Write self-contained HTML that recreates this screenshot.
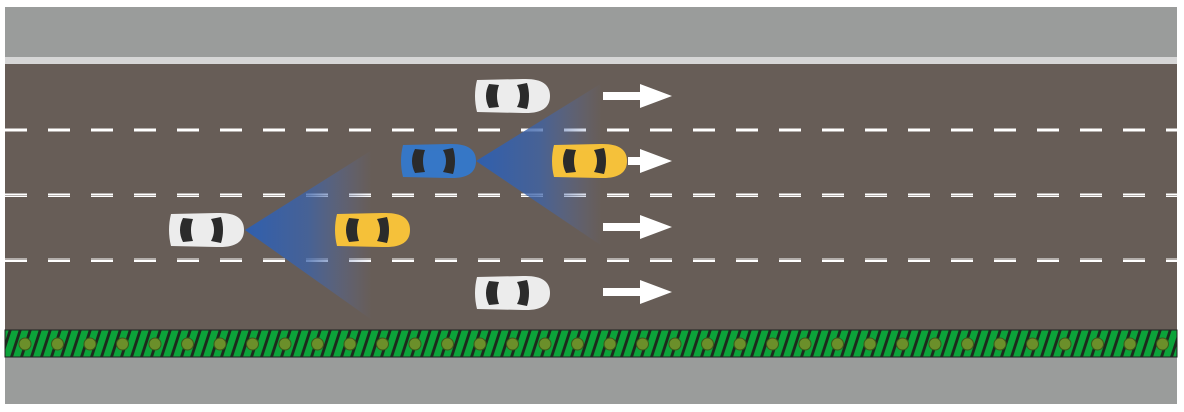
<!DOCTYPE html>
<html><head><style>html,body{margin:0;padding:0;background:#fff;}svg{display:block}</style></head>
<body>
<svg width="1184" height="412" viewBox="0 0 1184 412" xmlns="http://www.w3.org/2000/svg">
<defs>
<linearGradient id="cg" x1="0" x2="1" y1="0" y2="0">
<stop offset="0" stop-color="#2f5fae" stop-opacity="1"/>
<stop offset="0.5" stop-color="#3c63aa" stop-opacity="0.75"/>
<stop offset="1" stop-color="#5a6ea8" stop-opacity="0"/>
</linearGradient>
<pattern id="hatch" width="10" height="27" patternUnits="userSpaceOnUse" patternTransform="skewX(-18)">
<rect width="10" height="27" fill="#0ca33a"/>
<rect x="6" width="3" height="27" fill="#1d2a1d"/>
</pattern>
<pattern id="dash" width="43" height="4" patternUnits="userSpaceOnUse" x="5">
<rect x="0" width="22" height="3.5" fill="#fff"/>
</pattern>
<radialGradient id="bodyW" cx="0.6" cy="0.5" r="0.6"><stop offset="0" stop-color="#fff"/><stop offset="1" stop-color="#d6d6d6"/></radialGradient>
<radialGradient id="bodyY" cx="0.6" cy="0.5" r="0.6"><stop offset="0" stop-color="#f6d23a"/><stop offset="1" stop-color="#f0a630"/></radialGradient>
<radialGradient id="bodyB" cx="0.6" cy="0.5" r="0.6"><stop offset="0" stop-color="#3f8fd6"/><stop offset="1" stop-color="#2c63b0"/></radialGradient>
<g id="car">
<path d="M4,2 Q0,18 4,34 L50,35 Q77,36 77,18 Q77,0 50,1 Z" fill="currentColor"/>
<path d="M16,6 Q10,18 16,30 L26,29 Q22,18 26,7 Z" fill="#2b2b2b"/>
<path d="M44,7 Q50,18 44,29 L54,31 Q58,18 54,5 Z" fill="#2b2b2b"/>
<rect x="26" y="8" width="18" height="20" rx="3" fill="currentColor" opacity="0.9"/>
</g>
</defs>
<rect x="5" y="7" width="1172" height="50" fill="#9a9c9b"/>
<rect x="5" y="57" width="1172" height="7" fill="#d6d6d6"/>
<rect x="5" y="64" width="1172" height="266" fill="#675d57"/>
<rect x="5" y="357" width="1172" height="47" fill="#9a9c9b"/>
<rect x="5" y="128.5" width="1172" height="3.5" fill="url(#dash)"/>
<rect x="5" y="193.5" width="1172" height="3.5" fill="url(#dash)"/>
<rect x="5" y="258.5" width="1172" height="3.5" fill="url(#dash)"/>
<rect x="5" y="330" width="1172" height="27" fill="url(#hatch)" stroke="#222" stroke-width="1"/>
<g fill="#6b8f2a" stroke="#3d5a1a" stroke-width="1">
<circle cx="25" cy="344" r="6"/><circle cx="57.5" cy="344" r="6"/><circle cx="90" cy="344" r="6"/><circle cx="122.5" cy="344" r="6"/><circle cx="155" cy="344" r="6"/><circle cx="187.5" cy="344" r="6"/><circle cx="220" cy="344" r="6"/><circle cx="252.5" cy="344" r="6"/><circle cx="285" cy="344" r="6"/><circle cx="317.5" cy="344" r="6"/><circle cx="350" cy="344" r="6"/><circle cx="382.5" cy="344" r="6"/><circle cx="415" cy="344" r="6"/><circle cx="447.5" cy="344" r="6"/><circle cx="480" cy="344" r="6"/><circle cx="512.5" cy="344" r="6"/><circle cx="545" cy="344" r="6"/><circle cx="577.5" cy="344" r="6"/><circle cx="610" cy="344" r="6"/><circle cx="642.5" cy="344" r="6"/><circle cx="675" cy="344" r="6"/><circle cx="707.5" cy="344" r="6"/><circle cx="740" cy="344" r="6"/><circle cx="772.5" cy="344" r="6"/><circle cx="805" cy="344" r="6"/><circle cx="837.5" cy="344" r="6"/><circle cx="870" cy="344" r="6"/><circle cx="902.5" cy="344" r="6"/><circle cx="935" cy="344" r="6"/><circle cx="967.5" cy="344" r="6"/><circle cx="1000" cy="344" r="6"/><circle cx="1032.5" cy="344" r="6"/><circle cx="1065" cy="344" r="6"/><circle cx="1097.5" cy="344" r="6"/><circle cx="1130" cy="344" r="6"/><circle cx="1162.5" cy="344" r="6"/>
</g>
<polygon points="245,230 372,150 372,320" fill="url(#cg)"/>
<polygon points="476,161 602,83 602,246" fill="url(#cg)"/>
<g fill="#fff">
<path d="M603,92 h37 v-8 l32,12 l-32,12 v-8 h-37 z"/>
<path d="M628,157 h12 v-8 l32,12 l-32,12 v-8 h-12 z"/>
<path d="M603,223 h37 v-8 l32,12 l-32,12 v-8 h-37 z"/>
<path d="M603,288 h37 v-8 l32,12 l-32,12 v-8 h-37 z"/>
</g>
<use href="#car" x="473" y="78" style="color:#ececec"/>
<use href="#car" x="399" y="143" style="color:#3677c6"/>
<use href="#car" x="550" y="143" style="color:#f5c13a"/>
<use href="#car" x="167" y="212" style="color:#ececec"/>
<use href="#car" x="333" y="212" style="color:#f5c13a"/>
<use href="#car" x="473" y="275" style="color:#ececec"/>
</svg>
</body></html>
